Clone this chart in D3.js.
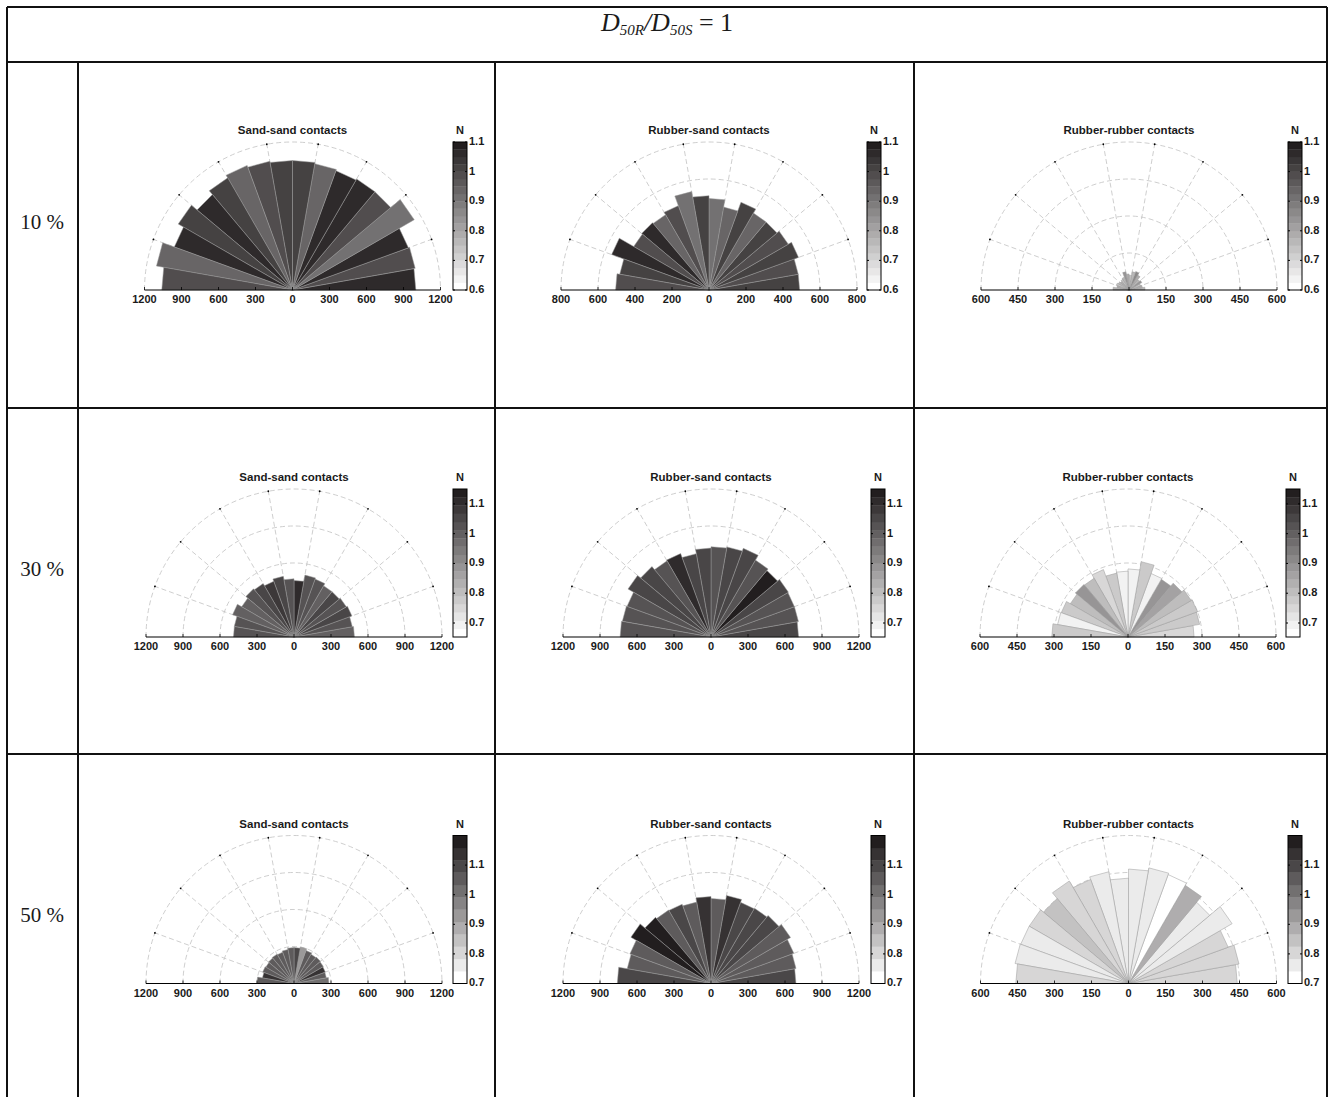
<!DOCTYPE html>
<html>
<head>
<meta charset="utf-8">
<script src="https://cdn.jsdelivr.net/npm/d3@7"></script>
<style>
  body { margin: 0; background: #fff; }
  svg text { font-family: "Liberation Sans", Arial, sans-serif; fill: #1a1a1a; }
  .serif { font-family: "Liberation Serif", "Times New Roman", serif; }
</style>
</head>
<body>
<svg id="fig" width="1332" height="1097"></svg>
<script>
// ---- data ----
const binStart = [0, 10, 20, 30, 40, 50, 60, 70, 80, 90, 100, 110, 120, 130, 140, 150, 160, 170];
const rowLabels = ["10 %", "30 %", "50 %"];
const panelTitles = ["Sand-sand contacts", "Rubber-sand contacts", "Rubber-rubber contacts"];
const axisMax = [[1200, 800, 600], [1200, 1200, 600], [1200, 1200, 600]];
const cbarRange = [[0.6, 1.1], [0.653, 1.15], [0.7, 1.2]];
const cbarTicks = [[0.6, 0.7, 0.8, 0.9, 1, 1.1], [0.7, 0.8, 0.9, 1, 1.1], [0.7, 0.8, 0.9, 1, 1.1]];
const cbarBands = [20, 18, 12];

// contact counts per 10° bin (0° = right), and mean N per bin
const ss10 = [1000, 1010, 1000, 1140, 1040, 1040, 1030, 1040, 1050, 1050, 1060, 1075, 1050, 1010, 1070, 1020, 1120, 1060];
const ss10N = [1.061, 0.985, 1.061, 0.908, 0.985, 1.061, 1.061, 0.946, 1.023, 1.009, 0.996, 0.946, 1.023, 1.061, 1.023, 1.061, 0.946, 0.985];
const rs10 = [490, 490, 515, 495, 480, 480, 505, 455, 495, 510, 540, 485, 470, 475, 470, 560, 490, 505];
const rs10N = [1.023, 0.985, 1.009, 0.985, 1.009, 0.946, 1.023, 0.946, 0.908, 1.023, 0.908, 0.985, 0.946, 1.061, 0.985, 1.061, 1.023, 0.985];
const rr10 = [65, 55, 50, 60, 55, 70, 80, 75, 60, 65, 75, 55, 50, 45, 50, 55, 50, 65];
const rr10N = [0.75, 0.79, 0.72, 0.83, 0.75, 0.79, 0.87, 0.75, 0.72, 0.79, 0.83, 0.75, 0.72, 0.79, 0.75, 0.72, 0.79, 0.75];

const ss30 = [490, 480, 500, 490, 480, 480, 500, 510, 458, 472, 500, 480, 500, 510, 490, 530, 492, 491];
const ss30N = [0.997, 1.035, 1.06, 1.035, 1.074, 0.997, 1.035, 1.035, 1.112, 1.035, 1.074, 1.096, 1.074, 1.035, 0.997, 0.997, 1.035, 1.035];
const rs30 = [710, 720, 720, 725, 705, 720, 765, 742, 732, 721, 686, 720, 713, 745, 777, 725, 730, 737];
const rs30N = [1.074, 1.035, 1.035, 1.074, 1.15, 1.035, 1.074, 1.074, 1.035, 1.06, 1.074, 1.112, 1.035, 1.06, 1.074, 1.035, 1.035, 1.035];
const rr30 = [268, 295, 300, 296, 285, 270, 274, 310, 276, 267, 263, 291, 275, 278, 270, 288, 290, 309];
const rr30N = [0.73, 0.768, 0.768, 0.806, 0.844, 0.882, 0.691, 0.768, 0.691, 0.691, 0.768, 0.73, 0.806, 0.882, 0.806, 0.768, 0.691, 0.768];

const ss50 = [283, 266, 270, 275, 280, 275, 285, 300, 291, 291, 280, 270, 275, 270, 265, 270, 260, 300];
const ss50N = [1.008, 1.085, 1.161, 1.085, 1.046, 1.085, 1.046, 0.931, 1.123, 1.046, 1.046, 1.085, 1.046, 1.085, 1.085, 1.085, 1.161, 1.085];
const rs50 = [689, 700, 715, 745, 720, 705, 700, 725, 690, 705, 670, 684, 687, 700, 750, 700, 690, 760];
const rs50N = [1.123, 1.085, 1.085, 1.085, 1.123, 1.123, 1.123, 1.161, 1.085, 1.161, 1.046, 1.123, 1.085, 1.2, 1.2, 1.046, 1.046, 1.123];
const rr50 = [441, 455, 430, 485, 430, 460, 470, 476, 464, 427, 460, 449, 480, 450, 465, 465, 467, 457];
const rr50N = [0.806, 0.777, 0.77, 0.752, 0.752, 0.87, 0.7, 0.752, 0.752, 0.752, 0.752, 0.77, 0.806, 0.815, 0.77, 0.752, 0.752, 0.806];

const counts = [[ss10, rs10, rr10], [ss30, rs30, rr30], [ss50, rs50, rr50]];
const coord = [[ss10N, rs10N, rr10N], [ss30N, rs30N, rr30N], [ss50N, rs50N, rr50N]];

// ---- layout ----
const W = 1332, H = 1097;
const R = 148;
const panelCx = [[292.5, 709, 1129], [294, 711, 1128], [294, 711, 1128.5]];
const rowBase = [290, 637, 983.5];
const cbarX = [[453, 867, 1288], [453, 871, 1286], [453, 871, 1288]];
const rowMid = [224, 571, 917];

const svg = d3.select("#fig");
const rad = d => d * Math.PI / 180;

// table frame
const frame = svg.append("g").attr("stroke", "#111").attr("stroke-width", 2);
[[7, 7, 1327, 7], [7, 62, 1327, 62], [7, 408, 1327, 408], [7, 754, 1327, 754],
 [7, 7, 7, H], [1327, 7, 1327, H], [78, 62, 78, H], [495, 62, 495, H], [914, 62, 914, H]]
  .forEach(l => frame.append("line").attr("x1", l[0]).attr("y1", l[1]).attr("x2", l[2]).attr("y2", l[3]));

// header formula
const head = svg.append("text").attr("class", "serif").attr("x", 667).attr("y", 31)
  .attr("text-anchor", "middle").attr("font-size", 26);
head.append("tspan").attr("font-style", "italic").text("D");
head.append("tspan").attr("font-style", "italic").attr("font-size", 15).attr("dy", 4).text("50R");
head.append("tspan").attr("font-style", "italic").attr("dy", -4).text("/D");
head.append("tspan").attr("font-style", "italic").attr("font-size", 15).attr("dy", 4).text("50S");
head.append("tspan").attr("dy", -4).text(" = 1");

rowLabels.forEach((t, i) => {
  svg.append("text").attr("class", "serif").attr("x", 42).attr("y", rowMid[i])
    .attr("text-anchor", "middle").attr("dominant-baseline", "middle")
    .attr("font-size", 21).text(t);
});

function drawPanel(ri, ci) {
  const cx = panelCx[ri][ci], by = rowBase[ri], M = axisMax[ri][ci];
  const r = d3.scaleLinear().domain([0, M]).range([0, R]);
  const xs = d3.scaleLinear().domain([-M, M]).range([cx - R, cx + R]);
  const g = svg.append("g");
  const pt = (v, a) => [cx + r(v) * Math.cos(rad(a)), by - r(v) * Math.sin(rad(a))];

  // grid rings
  const ringVals = [M / 4, M / 2, 3 * M / 4, M];
  ringVals.forEach(v => {
    const p = d3.path();
    p.arc(cx, by, r(v), Math.PI, 2 * Math.PI);
    g.append("path").attr("d", p.toString()).attr("fill", "none")
      .attr("stroke", "#c2c2c2").attr("stroke-width", 0.8).attr("stroke-dasharray", "5,3");
  });
  const spokes = [20, 40, 60, 80, 100, 120, 140, 160];
  spokes.forEach(a => {
    const e = pt(M, a);
    g.append("line").attr("x1", cx).attr("y1", by).attr("x2", e[0]).attr("y2", e[1])
      .attr("stroke", "#c2c2c2").attr("stroke-width", 0.8).attr("stroke-dasharray", "5,3");
  });

  // colour map (nearest band colour)
  const [lo, hi] = cbarRange[ri], nb = cbarBands[ri];
  const ramp = d3.interpolateRgb("#ffffff", "#221e1f");
  const idx = d3.scaleLinear().domain([lo, hi]).range([0, nb - 1]).clamp(true);
  const col = v => ramp(Math.round(idx(v)) / (nb - 1));

  // wedges
  const vals = counts[ri][ci], nvals = coord[ri][ci];
  g.append("g").selectAll("path").data(binStart).join("path")
    .attr("d", (a, i) => {
      const p1 = pt(vals[i], a), p2 = pt(vals[i], a + 10);
      return `M${cx},${by}L${p1[0]},${p1[1]}L${p2[0]},${p2[1]}Z`;
    })
    .attr("fill", (a, i) => col(nvals[i]))
    .attr("stroke", "#9a9a9a").attr("stroke-width", 0.5);

  // spoke end dots
  spokes.forEach(a => {
    const e = pt(M, a);
    g.append("circle").attr("cx", e[0]).attr("cy", e[1]).attr("r", 0.9).attr("fill", "#000");
  });

  // baseline axis
  const tv = [-M, -3 * M / 4, -M / 2, -M / 4, 0, M / 4, M / 2, 3 * M / 4, M];
  g.append("line").attr("x1", xs(-M)).attr("x2", xs(M)).attr("y1", by).attr("y2", by)
    .attr("stroke", "#000").attr("stroke-width", 1.1);
  tv.forEach(v => {
    g.append("line").attr("x1", xs(v)).attr("x2", xs(v)).attr("y1", by).attr("y2", by - 3)
      .attr("stroke", "#000").attr("stroke-width", 0.8);
    g.append("text").attr("x", xs(v)).attr("y", by + 13).attr("text-anchor", "middle")
      .attr("font-size", 11).attr("font-weight", "bold").text(Math.abs(v));
  });

  // title
  g.append("text").attr("x", cx).attr("y", by - 156).attr("text-anchor", "middle")
    .attr("font-size", 11.5).attr("font-weight", "bold").text(panelTitles[ci]);

  // colour bar
  const bx = cbarX[ri][ci], bw = 14;
  const ys = d3.scaleLinear().domain([lo, hi]).range([by, by - R]);
  const step = (hi - lo) / nb;
  g.append("g").selectAll("rect").data(d3.range(nb)).join("rect")
    .attr("x", bx).attr("width", bw)
    .attr("y", k => ys(lo + (k + 1) * step)).attr("height", k => ys(lo + k * step) - ys(lo + (k + 1) * step) + 0.3)
    .attr("fill", k => ramp(k / (nb - 1)));
  g.append("rect").attr("x", bx).attr("y", by - R).attr("width", bw).attr("height", R)
    .attr("fill", "none").attr("stroke", "#000").attr("stroke-width", 1);
  cbarTicks[ri].forEach(v => {
    g.append("line").attr("x1", bx).attr("x2", bx + 2).attr("y1", ys(v)).attr("y2", ys(v)).attr("stroke", "#000");
    g.append("line").attr("x1", bx + bw - 2).attr("x2", bx + bw).attr("y1", ys(v)).attr("y2", ys(v)).attr("stroke", "#000");
    g.append("text").attr("x", bx + bw + 2).attr("y", ys(v)).attr("dominant-baseline", "middle")
      .attr("font-size", 11).attr("font-weight", "bold").text(v);
  });
  g.append("text").attr("x", bx + bw / 2).attr("y", by - 156).attr("text-anchor", "middle")
    .attr("font-size", 11).attr("font-weight", "bold").text("N");
}

for (let ri = 0; ri < 3; ri++) for (let ci = 0; ci < 3; ci++) drawPanel(ri, ci);
</script>
</body>
</html>
